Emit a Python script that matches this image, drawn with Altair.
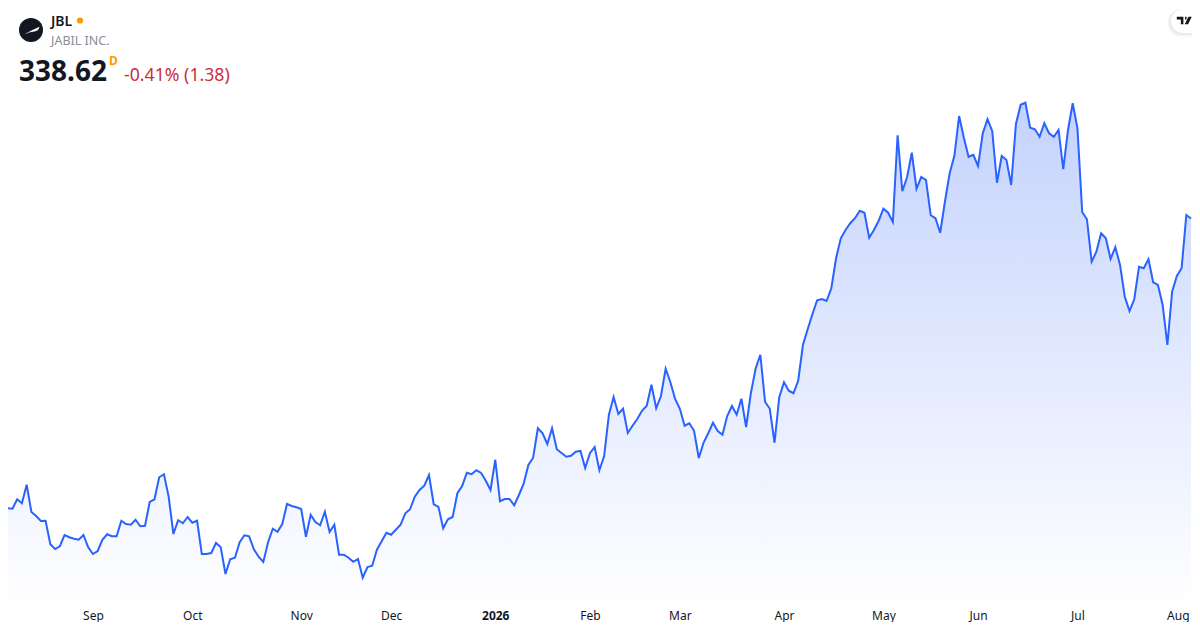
import altair as alt
import pandas as pd

symbol = "JBL"
company = "JABIL INC."
last_price = "338.62"
interval_flag = "D"
change_text = "-0.41% (1.38)"

tick_index = [19, 40, 63, 82, 104, 124, 143, 165, 186, 206, 227, 248.2]
tick_label = ["Sep", "Oct", "Nov", "Dec", "2026", "Feb", "Mar", "Apr", "May", "Jun", "Jul", "Aug"]

prices_a = [221.7, 222.7, 222.5, 226.3, 224.7, 232.1, 221.2, 219.6, 217.6, 217.7, 208.3, 206.4, 207.5, 212.0, 211.1, 210.5,
            210.1, 212.0, 207.1, 204.4, 205.6, 210.1, 212.3, 211.5, 211.5, 217.7, 216.4, 216.1, 218.1, 215.5, 215.7, 225.2,
            226.3, 235.1, 236.3, 227.3, 212.4, 217.9, 216.7, 219.2, 216.9, 217.7, 204.4, 204.4, 204.8, 208.8, 207.1, 196.4,
            202.3, 202.9, 209.1, 211.9, 211.5, 206.3, 203.3, 201.2, 209.1, 214.5, 213.3, 216.4, 224.4, 223.6, 223.1]
prices_b = [222.4, 211.3, 220.1, 217.2, 215.9, 221.3, 213.2, 216.1, 204.1, 204.1, 202.9, 201.3, 202.4, 194.9, 199.2, 199.7,
            206.1, 209.5, 212.9, 212.1, 214.1, 216.1, 220.7, 222.3, 227.3, 230.0, 231.7, 236.0, 224.3, 223.2, 214.7, 218.3,
            219.2, 228.7, 231.6, 236.9, 236.3, 237.9, 236.8, 233.7, 230.0, 242.1, 225.5, 226.4, 226.4, 223.9, 228.0, 232.5,
            240.0, 242.9, 254.7, 252.7, 248.4, 254.7, 246.3, 244.8, 243.3, 243.7, 245.3, 245.6, 238.8, 244.7]
prices_c = [247.2, 237.9, 243.6, 260.0, 267.2, 260.4, 262.5, 252.8, 255.7, 258.4, 261.7, 263.7, 272.1, 262.7, 267.6, 278.5,
            273.1, 266.4, 262.5, 255.7, 256.7, 253.7, 242.8, 248.9, 252.7, 256.9, 253.6, 252.1, 259.6, 263.6, 260.1, 266.5,
            255.2, 268.7, 278.5, 284.1, 265.3, 262.5, 248.9, 267.1, 273.1, 269.7, 268.7, 273.7, 288.0, 294.3, 300.3, 305.9,
            306.4, 305.6, 310.7, 322.7, 330.7, 334.0, 336.7, 338.7, 341.7, 340.9, 330.9, 334.0, 337.7]
prices_d = [342.5, 340.9, 337.2, 371.9, 349.5, 355.1, 364.9, 350.5, 355.2, 354.0, 339.9, 338.7, 332.9, 345.3, 356.7, 363.7,
            379.6, 370.9, 363.3, 364.1, 359.6, 372.7, 378.3, 373.5, 352.9, 363.6, 362.0, 352.0, 376.4, 384.1, 384.9, 374.9,
            374.3, 371.3, 376.7, 372.7, 371.3, 374.0, 358.3, 374.0, 384.7, 374.7, 341.2, 338.3, 321.3, 325.3, 332.7, 330.7,
            322.4, 327.1, 320.0, 307.3, 301.6, 306.3, 319.3, 318.7, 322.3, 313.1, 312.0, 304.0, 288.0, 309.3, 315.6, 318.7,
            340.0, 338.62]

prices = prices_a + prices_b + prices_c + prices_d
df = pd.DataFrame({"i": list(range(len(prices))), "p": prices})
one = pd.DataFrame({"k": [0]})

W, H = 1184, 600
x_scale = alt.Scale(domain=[1.056, 251.2], nice=False, zero=False)
y_scale = alt.Scale(domain=[182.8, 422.8], nice=False, zero=False)

label_map = ",".join(f"'{i}':'{t}'" for i, t in zip(tick_index, tick_label))
x_axis = alt.Axis(
    values=tick_index,
    labelExpr="({" + label_map + "})[''+datum.value]",
    title=None, grid=False, domain=False, ticks=False, tickSize=0,
    labelFont="Noto Sans", labelFontSize=12, labelColor="#131722", labelPadding=2,
    labelOverlap=False, labelFlush=False, labelAngle=0,
    labelFontWeight=alt.expr("datum.value == 104 ? 'bold' : 'normal'"),
)

grad = alt.Gradient(
    gradient="linear", x1=0, x2=0, y1=0, y2=1,
    stops=[alt.GradientStop(color="#c4d3fd", offset=0),
           alt.GradientStop(color="#ffffff", offset=1)],
)

area = alt.Chart(df).mark_area(color=grad, line=False).encode(
    x=alt.X("i:Q", scale=x_scale, axis=x_axis),
    y=alt.Y("p:Q", scale=y_scale, axis=None),
    y2=alt.datum(182.8),
)
line = alt.Chart(df).mark_line(color="#2962ff", strokeWidth=2, strokeJoin="miter").encode(
    x=alt.X("i:Q", scale=x_scale, axis=x_axis),
    y=alt.Y("p:Q", scale=y_scale, axis=None),
)


def px(v):
    return alt.value(v - 8)


def label(text, x, y, size, color, weight="normal"):
    return alt.Chart(one).mark_text(
        align="left", baseline="alphabetic", font="Noto Sans",
        fontSize=size, color=color, fontWeight=weight,
    ).encode(x=px(x), y=px(y), text=alt.value(text))


def dot(x, y, size, color):
    return alt.Chart(one).mark_point(filled=True, opacity=1, color=color, size=size, shape="circle").encode(
        x=px(x), y=px(y))


def glyph(path, x, y, size, color):
    return alt.Chart(one).mark_point(filled=True, opacity=1, color=color, size=size, shape=path, strokeWidth=0).encode(
        x=px(x), y=px(y))


def box(x0, y0, x1, y1, radius, **kw):
    return alt.Chart(one).mark_rect(cornerRadius=radius, **kw).encode(
        x=px(x0), x2=px(x1), y=px(y0), y2=px(y1))


shadows = [
    box(1171 - d, 9, 1210, 33 + d, 12 + d, color="#000000", opacity=0.022)
    for d in (4, 3, 2, 1)
]
tag = box(1171, 9, 1210, 33, 12, color="#ffffff")
tv_path = "M-1,-.5 H-.12 V.5 H-.46 V-.12 H-1 Z M.1,-.5 H.3 V-.12 H.1 Z M.55,-.5 H1 L.5,.5 H.06 Z"
swoosh = "M-1,.5 C-.3,.1 .3,-.2 1,-.5 C.9,-.1 .7,.1 .3,.12 C-.2,.15 -.6,.35 -1,.5 Z"

chart = alt.layer(
    area, line,
    *shadows, tag,
    glyph(tv_path, 1184.3, 20.5, 225, "#131722"),
    dot(31, 30, 576, "#131722"),
    glyph(swoosh, 32, 30.5, 225, "#ffffff"),
    label(symbol, 51, 26, 14, "#131722", 600),
    dot(80, 20.5, 38, "#ff9800"),
    label(company, 51, 45, 12.5, "#8a8e96"),
    label(last_price, 19, 81, 28, "#131722", "bold"),
    label(interval_flag, 109, 65, 12, "#ff9800", "bold"),
    label(change_text, 124, 81, 17.7, "#cc2f3c"),
).properties(
    width=W, height=H,
    padding={"left": 0, "top": 0, "right": 0, "bottom": 14},
    autosize=alt.AutoSizeParams(type="none"),
    background="#ffffff",
).configure_view(stroke=None)

chart.save("out.html", embed_options={"renderer": "svg", "actions": False})
